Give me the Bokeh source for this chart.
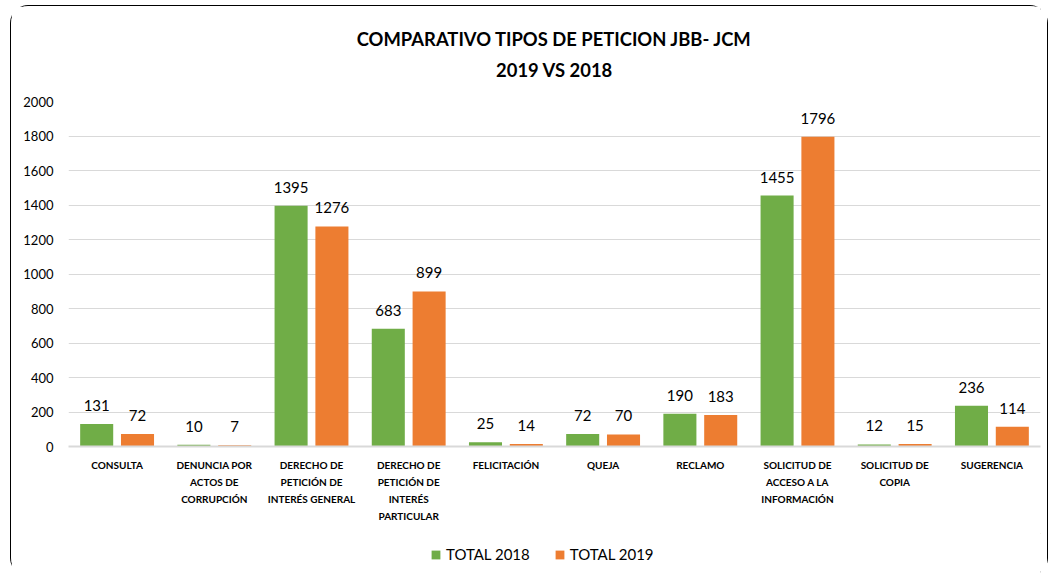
from bokeh.plotting import figure
from bokeh.layouts import column
from bokeh.models import ColumnDataSource, LabelSet, Legend, LegendItem, FactorRange, Label
from bokeh.transform import dodge
from bokeh.core.properties import value
from bokeh.embed import file_html
from bokeh.resources import INLINE

title_lines = ["COMPARATIVO TIPOS DE PETICION JBB- JCM", "2019 VS 2018"]
categories = ["CONSULTA", "DENUNCIA POR\nACTOS DE\nCORRUPCIÓN", "DERECHO DE\nPETICIÓN DE\nINTERÉS GENERAL",
              "DERECHO DE\nPETICIÓN DE\nINTERÉS\nPARTICULAR", "FELICITACIÓN", "QUEJA", "RECLAMO",
              "SOLICITUD DE\nACCESO A LA\nINFORMACIÓN", "SOLICITUD DE\nCOPIA", "SUGERENCIA"]
total_2018 = [131, 10, 1395, 683, 25, 72, 190, 1455, 12, 236]
total_2019 = [72, 7, 1276, 899, 14, 70, 183, 1796, 15, 114]
y_ticks = [0, 200, 400, 600, 800, 1000, 1200, 1400, 1600, 1800, 2000]
series_names = ["TOTAL 2018", "TOTAL 2019"]

GREEN = "#70AD47"
ORANGE = "#ED7D31"
FONT = "Lato"
W = 1036

# ---- title strip (x: 0..1 across the plot frame, y: pixels from the top) ----
t = figure(width=W, height=85, x_range=(0, 1), y_range=(85, 0), output_backend="svg",
           toolbar_location=None, min_border=0)
t.axis.visible = False
t.grid.grid_line_color = None
t.outline_line_color = None
for txt, yy in zip(title_lines, (32, 63)):
    t.add_layout(Label(x=0.5, y=yy, text=txt, text_align="center", text_baseline="middle",
                       text_font=FONT, text_font_size="18.4px", text_font_style="bold",
                       text_color="#000000"))

# ---- main chart ----
src = ColumnDataSource(dict(cat=categories, a=total_2018, b=total_2019,
                            la=[str(v) for v in total_2018], lb=[str(v) for v in total_2019]))

p = figure(x_range=FactorRange(*categories), y_range=(0, 2000), width=W, height=442,
           output_backend="svg", toolbar_location=None, title=None,
           min_border_left=57, min_border_right=7, min_border_top=10, min_border_bottom=87)

r1 = p.vbar(x=dodge("cat", -0.21, range=p.x_range), top="a", width=0.34, source=src,
            fill_color=GREEN, line_color=None)
r2 = p.vbar(x=dodge("cat", 0.21, range=p.x_range), top="b", width=0.34, source=src,
            fill_color=ORANGE, line_color=None)

for col, lab, off in (("a", "la", -0.21), ("b", "lb", 0.21)):
    p.add_layout(LabelSet(x=dodge("cat", off, range=p.x_range), y=col, text=lab, source=src,
                          text_align="center", text_baseline="bottom", y_offset=13,
                          text_font=value(FONT), text_font_size="15px", text_color="#000000"))

p.yaxis.ticker = y_ticks
p.yaxis.axis_line_color = None
p.yaxis.major_tick_line_color = None
p.yaxis.minor_tick_line_color = None
p.yaxis.major_label_text_font = FONT
p.yaxis.major_label_text_font_size = "13px"
p.yaxis.major_label_text_color = "#000000"
p.yaxis.major_label_standoff = 9

p.xaxis.axis_line_color = "#D9D9D9"
p.xaxis.axis_line_width = 2
p.xaxis.major_tick_line_color = None
p.xaxis.minor_tick_line_color = None
p.xaxis.major_label_text_font = FONT
p.xaxis.major_label_text_font_size = "10px"
p.xaxis.major_label_text_font_style = "bold"
p.xaxis.major_label_text_color = "#000000"
p.xaxis.major_label_text_line_height = 1.42
p.xaxis.major_label_standoff = 6
p.xaxis.major_label_orientation = "horizontal"

p.xgrid.grid_line_color = None
p.ygrid.grid_line_color = "#D9D9D9"
p.outline_line_color = None
p.x_range.range_padding = 0
p.x_range.group_padding = 0

# ---- legend strip (frame aligned with the chart frame) ----
q = figure(width=W, height=42, x_range=(0, 1), y_range=(0, 1), output_backend="svg",
           toolbar_location=None, min_border=0)
q.axis.visible = False
q.grid.grid_line_color = None
q.outline_line_color = None
# proxies kept outside the visible range, used only for the legend swatches
g1 = q.vbar(x=[5], top=[5], bottom=[4], width=0.1, fill_color=GREEN, line_color=None)
g2 = q.vbar(x=[5], top=[5], bottom=[4], width=0.1, fill_color=ORANGE, line_color=None)
legend = Legend(items=[LegendItem(label=series_names[0], renderers=[g1]),
                       LegendItem(label=series_names[1], renderers=[g2])],
                orientation="horizontal", location=(362, 12),
                label_text_font=FONT, label_text_font_size="15px", label_text_color="#000000",
                glyph_width=11, glyph_height=11, spacing=24, label_standoff=5,
                margin=0, padding=0, label_height=17,
                background_fill_alpha=0, border_line_color=None)
q.add_layout(legend)

layout = column(t, p, q, spacing=0, styles={"border": "1px solid #000000", "border-radius": "18px",
                                             "margin-left": "10px", "margin-top": "5px"})

open("out.html", "w").write(file_html(layout, INLINE))
